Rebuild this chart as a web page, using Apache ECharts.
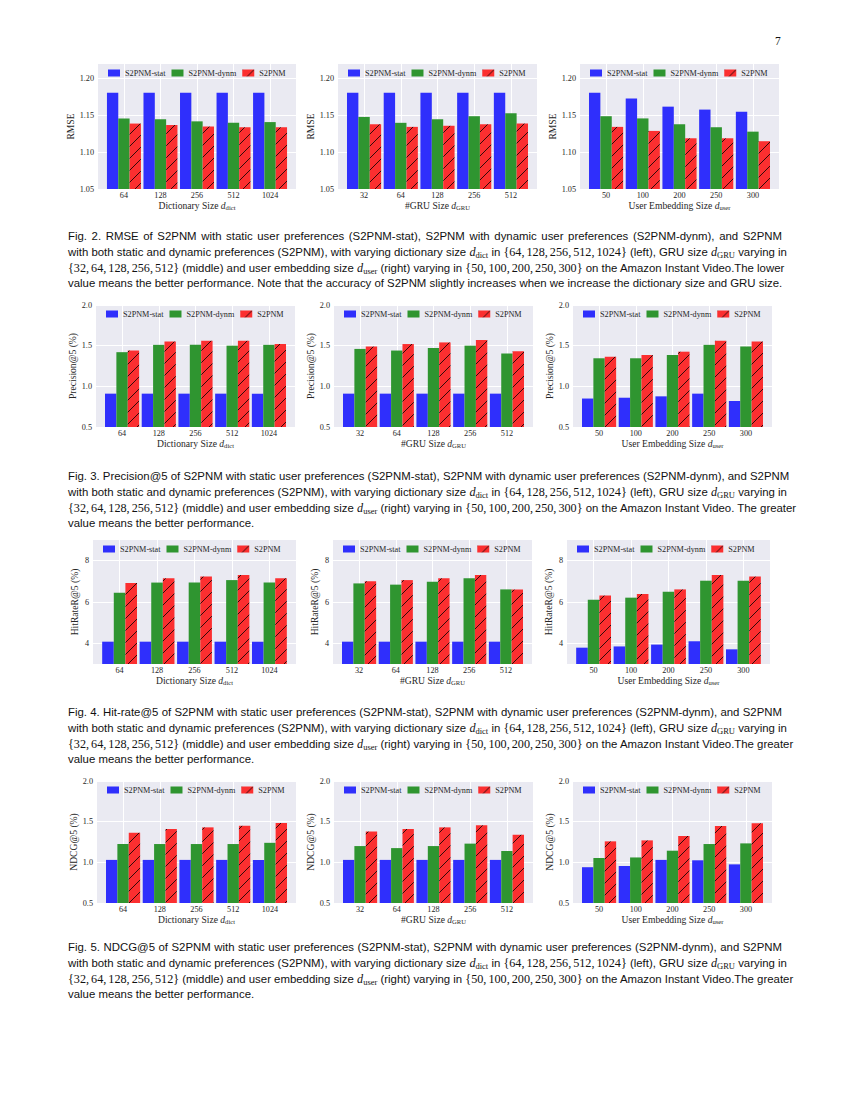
<!DOCTYPE html>
<html><head><meta charset="utf-8">
<script src="https://cdn.jsdelivr.net/npm/echarts@6/dist/echarts.min.js"></script>
<style>
html,body{margin:0;padding:0;background:#fff;}
#page{position:relative;width:850px;height:1100px;overflow:hidden;background:#fff;}
#chart{position:absolute;left:0;top:0;width:850px;height:1100px;}
.cap{position:absolute;left:68px;width:714px;font-family:"Liberation Sans",Arial,sans-serif;font-size:11.4px;line-height:15.8px;color:#111;}
.cap .ln{text-align:justify;text-align-last:justify;white-space:nowrap;}
.cap .ln.last{text-align-last:left;}
.m{font-family:"Liberation Serif","Times New Roman",serif;font-size:12.2px;}
.m i{font-style:italic;}
.m sub{font-size:8.5px;vertical-align:-2px;line-height:0;font-style:normal;}
.c{margin-right:2px;}
#pn{position:absolute;left:775px;top:35px;font-family:"Liberation Serif",serif;font-size:11.5px;color:#111;}
</style>
</head><body>
<div id="page">
<div id="chart"></div>
<div id="pn">7</div>
<div class="cap" style="top:229px">
<div class="ln">Fig. 2. RMSE of S2PNM with static user preferences (S2PNM-stat), S2PNM with dynamic user preferences (S2PNM-dynm), and S2PNM</div>
<div class="ln">with both static and dynamic preferences (S2PNM), with varying dictionary size <span class="m"><i>d</i><sub>dict</sub></span> in <span class="m">{64<span class="c">,</span>128<span class="c">,</span>256<span class="c">,</span>512<span class="c">,</span>1024}</span> (left), GRU size <span class="m"><i>d</i><sub>GRU</sub></span> varying in</div>
<div class="ln"><span class="m">{32<span class="c">,</span>64<span class="c">,</span>128<span class="c">,</span>256<span class="c">,</span>512}</span> (middle) and user embedding size <span class="m"><i>d</i><sub>user</sub></span> (right) varying in <span class="m">{50<span class="c">,</span>100<span class="c">,</span>200<span class="c">,</span>250<span class="c">,</span>300}</span> on the Amazon Instant Video.The lower</div>
<div class="ln last">value means the better performance. Note that the accuracy of S2PNM slightly increases when we increase the dictionary size and GRU size.</div>
</div>
<div class="cap" style="top:469px">
<div class="ln">Fig. 3. Precision@5 of S2PNM with static user preferences (S2PNM-stat), S2PNM with dynamic user preferences (S2PNM-dynm), and S2PNM</div>
<div class="ln">with both static and dynamic preferences (S2PNM), with varying dictionary size <span class="m"><i>d</i><sub>dict</sub></span> in <span class="m">{64<span class="c">,</span>128<span class="c">,</span>256<span class="c">,</span>512<span class="c">,</span>1024}</span> (left), GRU size <span class="m"><i>d</i><sub>GRU</sub></span> varying in</div>
<div class="ln"><span class="m">{32<span class="c">,</span>64<span class="c">,</span>128<span class="c">,</span>256<span class="c">,</span>512}</span> (middle) and user embedding size <span class="m"><i>d</i><sub>user</sub></span> (right) varying in <span class="m">{50<span class="c">,</span>100<span class="c">,</span>200<span class="c">,</span>250<span class="c">,</span>300}</span> on the Amazon Instant Video. The greater</div>
<div class="ln last">value means the better performance.</div>
</div>
<div class="cap" style="top:705px">
<div class="ln">Fig. 4. Hit-rate@5 of S2PNM with static user preferences (S2PNM-stat), S2PNM with dynamic user preferences (S2PNM-dynm), and S2PNM</div>
<div class="ln">with both static and dynamic preferences (S2PNM), with varying dictionary size <span class="m"><i>d</i><sub>dict</sub></span> in <span class="m">{64<span class="c">,</span>128<span class="c">,</span>256<span class="c">,</span>512<span class="c">,</span>1024}</span> (left), GRU size <span class="m"><i>d</i><sub>GRU</sub></span> varying in</div>
<div class="ln"><span class="m">{32<span class="c">,</span>64<span class="c">,</span>128<span class="c">,</span>256<span class="c">,</span>512}</span> (middle) and user embedding size <span class="m"><i>d</i><sub>user</sub></span> (right) varying in <span class="m">{50<span class="c">,</span>100<span class="c">,</span>200<span class="c">,</span>250<span class="c">,</span>300}</span> on the Amazon Instant Video.The greater</div>
<div class="ln last">value means the better performance.</div>
</div>
<div class="cap" style="top:940px">
<div class="ln">Fig. 5. NDCG@5 of S2PNM with static user preferences (S2PNM-stat), S2PNM with dynamic user preferences (S2PNM-dynm), and S2PNM</div>
<div class="ln">with both static and dynamic preferences (S2PNM), with varying dictionary size <span class="m"><i>d</i><sub>dict</sub></span> in <span class="m">{64<span class="c">,</span>128<span class="c">,</span>256<span class="c">,</span>512<span class="c">,</span>1024}</span> (left), GRU size <span class="m"><i>d</i><sub>GRU</sub></span> varying in</div>
<div class="ln"><span class="m">{32<span class="c">,</span>64<span class="c">,</span>128<span class="c">,</span>256<span class="c">,</span>512}</span> (middle) and user embedding size <span class="m"><i>d</i><sub>user</sub></span> (right) varying in <span class="m">{50<span class="c">,</span>100<span class="c">,</span>200<span class="c">,</span>250<span class="c">,</span>300}</span> on the Amazon Instant Video.The greater</div>
<div class="ln last">value means the better performance.</div>
</div>
</div>
<script>
// ---------- categories ----------
const dictSizes = ['64', '128', '256', '512', '1024'];
const gruSizes = ['32', '64', '128', '256', '512'];
const userSizes = ['50', '100', '200', '250', '300'];
const seriesNames = ['S2PNM-stat', 'S2PNM-dynm', 'S2PNM'];

// ---------- tick labels ----------
const rmseTicks = [1.05, 1.10, 1.15, 1.20];
const precTicks = [0.5, 1.0, 1.5, 2.0];
const hitTicks = [4, 6, 8];
const ndcgTicks = [0.5, 1.0, 1.5, 2.0];

// ---------- RMSE ----------
const rmseDictStat = [1.181, 1.181, 1.181, 1.181, 1.181];
const rmseDictDynm = [1.146, 1.145, 1.142, 1.140, 1.141];
const rmseDictFull = [1.139, 1.137, 1.135, 1.134, 1.134];
const rmseGruStat = [1.181, 1.181, 1.181, 1.181, 1.181];
const rmseGruDynm = [1.148, 1.140, 1.145, 1.149, 1.153];
const rmseGruFull = [1.138, 1.1345, 1.136, 1.138, 1.139];
const rmseUserStat = [1.181, 1.173, 1.162, 1.158, 1.155];
const rmseUserDynm = [1.149, 1.146, 1.138, 1.134, 1.128];
const rmseUserFull = [1.1345, 1.129, 1.119, 1.119, 1.115];

// ---------- Precision@5 ----------
const precDictStat = [0.91, 0.91, 0.91, 0.91, 0.91];
const precDictDynm = [1.42, 1.51, 1.51, 1.50, 1.51];
const precDictFull = [1.44, 1.55, 1.56, 1.56, 1.52];
const precGruStat = [0.91, 0.91, 0.91, 0.91, 0.91];
const precGruDynm = [1.46, 1.44, 1.47, 1.50, 1.405];
const precGruFull = [1.49, 1.52, 1.54, 1.57, 1.43];
const precUserStat = [0.85, 0.86, 0.877, 0.91, 0.82];
const precUserDynm = [1.345, 1.345, 1.385, 1.51, 1.49];
const precUserFull = [1.365, 1.385, 1.426, 1.56, 1.55];

// ---------- HitRate@5 ----------
const hitDictStat = [4.08, 4.08, 4.08, 4.08, 4.08];
const hitDictDynm = [6.45, 6.94, 6.94, 7.06, 6.94];
const hitDictFull = [6.92, 7.15, 7.23, 7.31, 7.15];
const hitGruStat = [4.08, 4.08, 4.08, 4.08, 4.08];
const hitGruDynm = [6.90, 6.84, 6.98, 7.15, 6.61];
const hitGruFull = [7.00, 7.06, 7.15, 7.31, 6.61];
const hitUserStat = [3.79, 3.85, 3.94, 4.10, 3.71];
const hitUserDynm = [6.11, 6.21, 6.50, 7.03, 7.03];
const hitUserFull = [6.32, 6.39, 6.61, 7.31, 7.23];

// ---------- NDCG@5 ----------
const ndcgDictStat = [1.03, 1.03, 1.03, 1.03, 1.03];
const ndcgDictDynm = [1.225, 1.225, 1.225, 1.225, 1.24];
const ndcgDictFull = [1.365, 1.41, 1.43, 1.45, 1.485];
const ndcgGruStat = [1.03, 1.03, 1.03, 1.03, 1.03];
const ndcgGruDynm = [1.20, 1.175, 1.20, 1.23, 1.14];
const ndcgGruFull = [1.38, 1.41, 1.43, 1.455, 1.34];
const ndcgUserStat = [0.94, 0.955, 1.03, 1.025, 0.975];
const ndcgUserDynm = [1.053, 1.06, 1.143, 1.225, 1.233];
const ndcgUserFull = [1.258, 1.27, 1.324, 1.447, 1.48];

// ---------- panel definitions (data refs + layout) ----------
const SERIF = '"Liberation Serif","Times New Roman",serif';
const TXT = '#262626';
const xNames = {
  dict: '{t|Dictionary Size }{i|d}{s|dict}',
  gru: '{t|#GRU Size }{i|d}{s|GRU}',
  user: '{t|User Embedding Size }{i|d}{s|user}'
};
const rows = [
  {top: 64, height: 125, ymin: 1.05, ymax: 1.22, ticks: rmseTicks, dec: 2, yname: 'RMSE', ygap: 17.5,
   cols: [[98, 198], [338, 199], [580, 199]],
   data: [[rmseDictStat, rmseDictDynm, rmseDictFull], [rmseGruStat, rmseGruDynm, rmseGruFull], [rmseUserStat, rmseUserDynm, rmseUserFull]]},
  {top: 305, height: 122, ymin: 0.5, ymax: 2.0, ticks: precTicks, dec: 1, yname: 'Precision@5 (%)', ygap: 15.5,
   cols: [[96, 199], [334, 199], [573, 199]],
   data: [[precDictStat, precDictDynm, precDictFull], [precGruStat, precGruDynm, precGruFull], [precUserStat, precUserDynm, precUserFull]]},
  {top: 540, height: 124, ymin: 3, ymax: 9, ticks: hitTicks, dec: 0, yname: 'HitRateR@5 (%)', ygap: 13.5,
   cols: [[93, 203], [333, 199], [567, 203]],
   data: [[hitDictStat, hitDictDynm, hitDictFull], [hitGruStat, hitGruDynm, hitGruFull], [hitUserStat, hitUserDynm, hitUserFull]]},
  {top: 781, height: 122, ymin: 0.5, ymax: 2.0, ticks: ndcgTicks, dec: 1, yname: 'NDCG@5 (%)', ygap: 16.5,
   cols: [[97, 199], [334, 199], [573, 199]],
   data: [[ndcgDictStat, ndcgDictDynm, ndcgDictFull], [ndcgGruStat, ndcgGruDynm, ndcgGruFull], [ndcgUserStat, ndcgUserDynm, ndcgUserFull]]}
];
const colCats = [dictSizes, gruSizes, userSizes];
const colKeys = ['dict', 'gru', 'user'];

function hatchPattern() {
  const s = 12;
  const c = document.createElement('canvas');
  c.width = s; c.height = s;
  const g = c.getContext('2d');
  g.fillStyle = '#FB2F30';
  g.fillRect(0, 0, s, s);
  g.strokeStyle = 'rgba(0,0,0,0.8)';
  g.lineWidth = 1;
  [0, s, 2 * s].forEach(function (k) {
    g.beginPath();
    g.moveTo(k + 2, -2);
    g.lineTo(k - s - 2, s + 2);
    g.stroke();
  });
  return {image: c, repeat: 'repeat', imageWidth: s, imageHeight: s};
}
const colors = ['#2F2FFC', '#2F9530', hatchPattern()];

const grid = [], xAxis = [], yAxis = [], legend = [], series = [];
let k = 0;
rows.forEach(function (r) {
  r.cols.forEach(function (c, ci) {
    const cats = colCats[ci];
    grid.push({left: c[0], top: r.top, width: c[1], height: r.height, show: true,
      backgroundColor: '#EAEAF2', borderWidth: 0});
    xAxis.push({
      type: 'value', gridIndex: k, min: -0.71, max: 4.71,
      axisLine: {show: false},
      axisTick: {show: false, customValues: [0, 1, 2, 3, 4]},
      axisLabel: {customValues: [0, 1, 2, 3, 4], formatter: function (v) { return cats[Math.round(v)]; },
        fontSize: 8.2, fontFamily: SERIF, color: TXT, margin: 2.5},
      splitLine: {show: true, lineStyle: {color: '#ffffff', width: 1}},
      name: xNames[colKeys[ci]], nameLocation: 'middle', nameGap: 7,
      nameTextStyle: {fontSize: 9.6, fontFamily: SERIF, color: TXT,
        rich: {
          t: {fontSize: 9.6, fontFamily: SERIF, color: TXT, lineHeight: 11},
          i: {fontSize: 9.6, fontFamily: SERIF, color: TXT, fontStyle: 'italic', lineHeight: 11},
          s: {fontSize: 6.6, fontFamily: SERIF, color: TXT, lineHeight: 7, verticalAlign: 'bottom'}
        }}
    });
    yAxis.push({
      type: 'value', gridIndex: k, min: r.ymin, max: r.ymax,
      axisLine: {show: false},
      axisTick: {show: false, customValues: r.ticks},
      axisLabel: {customValues: r.ticks, formatter: function (v) { return v.toFixed(r.dec); },
        fontSize: 8.2, fontFamily: SERIF, color: TXT, margin: 4},
      splitLine: {show: true, lineStyle: {color: '#ffffff', width: 1}},
      name: r.yname, nameLocation: 'middle', nameRotate: 90, nameGap: r.ygap,
      nameTextStyle: {fontSize: 9.6, fontFamily: SERIF, color: TXT}
    });
    legend.push({
      left: c[0] + 10, top: r.top + 5, padding: 0, itemWidth: 12, itemHeight: 7, itemGap: 6,
      icon: 'rect', selectedMode: false, data: seriesNames.slice(),
      textStyle: {fontSize: 8.2, fontFamily: SERIF, color: TXT}
    });
    r.data[ci].forEach(function (arr, si) {
      series.push({
        type: 'bar', name: seriesNames[si], xAxisIndex: k, yAxisIndex: k,
        data: arr.map(function (v, i) { return [i, v]; }),
        barWidth: '31%', barGap: '0%', clip: true,
        itemStyle: {color: colors[si], borderWidth: 0},
        emphasis: {disabled: true}
      });
    });
    k++;
  });
});

const chart = echarts.init(document.getElementById('chart'), null, {renderer: 'svg', width: 850, height: 1100});
chart.setOption({animation: false, grid: grid, xAxis: xAxis, yAxis: yAxis, legend: legend, series: series});
</script>
</body></html>
